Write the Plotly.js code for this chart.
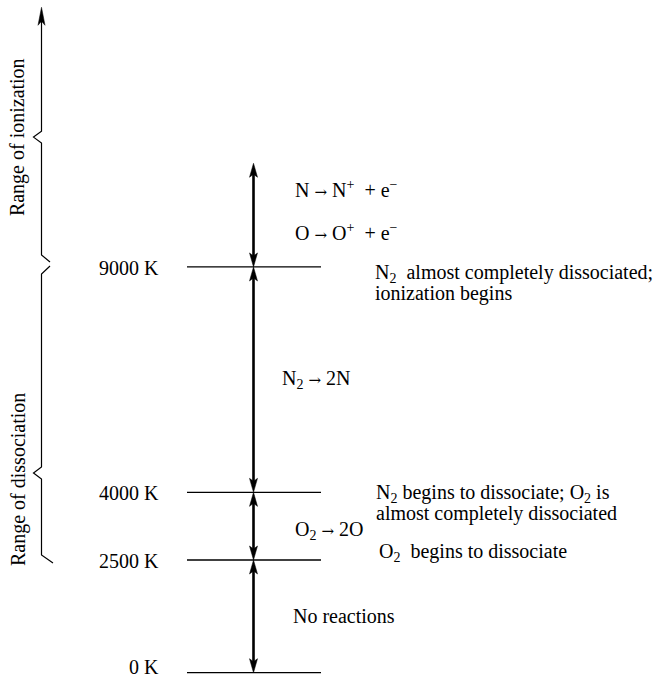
<!DOCTYPE html>
<html>
<head>
<meta charset="utf-8">
<script src="https://cdn.plot.ly/plotly-3.0.1.min.js"></script>
<style>html,body{margin:0;padding:0;background:#fff;}#chart{width:653px;height:678px;}</style>
</head>
<body>
<div id="chart"></div>
<script>
// ---- data ----
const levelsK = [0, 2500, 4000, 9000];
const levelLabels = ["0 K", "2500 K", "4000 K", "9000 K"];
const levelNotes = [
  [],
  ["O<sub>2</sub>  begins to dissociate"],
  ["N<sub>2</sub> begins to dissociate; O<sub>2</sub> is", "almost completely dissociated"],
  ["N<sub>2</sub>  almost completely dissociated;", "ionization begins"]
];
const stepLow  = [0, 2500, 4000, 9000];
const stepHigh = [2500, 4000, 9000, 11300];
const stepReactions = [
  ["No reactions"],
  ["O<sub>2</sub> → 2O"],
  ["N<sub>2</sub> → 2N"],
  ["N → N<sup>+</sup>  + e<sup>−</sup>", "O → O<sup>+</sup>  + e<sup>−</sup>"]
];
const rangeNames = ["Range of dissociation", "Range of ionization"];
const rangeLow  = [2500, 9000];
const rangeHigh = [9000, 14760];

// ---- geometry helpers (pixel <-> K on the linear y axis) ----
const Y0 = 672.7, S = 0.045083;
const kOf = p => (Y0 - p) / S;
const pxOf = k => Y0 - S * k;
const FONT = {family: "Liberation Serif", size: 20, color: "#000"};
const arrowGlyph = t => t.replace("→", '<span style="font-family:DejaVu Serif;font-size:15px">→</span>');

const shapes = [];
const annotations = [];
const traces = [];

// horizontal level lines
levelsK.forEach(k => {
  traces.push({x: [187, 321], y: [k, k], mode: "lines", line: {color: "#000", width: 1.3},
    hoverinfo: "skip", showlegend: false});
});

// arrowhead path
function head(x, tipK, dir, len, hw, notch) {
  const tp = pxOf(tipK);
  const bp = tp + dir * len, np = tp + dir * notch;
  return `M${x},${tipK} L${x - hw},${kOf(bp)} L${x},${kOf(np)} L${x + hw},${kOf(bp)} Z`;
}

// double arrows between levels
const AX = 253.5;
stepLow.forEach((lo, i) => {
  const hi = stepHigh[i];
  shapes.push({type: "line", xref: "x", yref: "y", x0: AX, x1: AX,
    y0: kOf(pxOf(lo) - 6), y1: kOf(pxOf(hi) + 6), line: {color: "#000", width: 2.6}});
  shapes.push({type: "path", xref: "x", yref: "y", path: head(AX, hi, 1, 14, 4, 11),
    fillcolor: "#000", line: {color: "#000", width: 0.5}});
  shapes.push({type: "path", xref: "x", yref: "y", path: head(AX, lo, -1, 14, 4, 11),
    fillcolor: "#000", line: {color: "#000", width: 0.5}});
  // reaction text
  const lines = stepReactions[i];
  const mid = (pxOf(lo) + pxOf(hi)) / 2;
  const xs = [291, 293, 280, 293][i];
  const shift = [0, 4, 0, -5][i];
  const gap = 43;
  lines.forEach((t, j) => {
    const p = mid + (j - (lines.length - 1) / 2) * gap + shift;
    annotations.push({xref: "x", yref: "y", x: xs, y: kOf(p), text: arrowGlyph(t), showarrow: false,
      xanchor: "left", yanchor: "middle", font: FONT});
  });
});

// level labels and notes
levelsK.forEach((k, i) => {
  annotations.push({xref: "x", yref: "y", x: 161, y: kOf(pxOf(k) - (i === 0 ? 6 : -1)), text: levelLabels[i],
    showarrow: false, xanchor: "right", yanchor: "middle", font: FONT});
  const notes = levelNotes[i];
  const offs = [0, -7, 1, 7][i];
  notes.forEach((t, j) => {
    annotations.push({xref: "x", yref: "y", x: [0, 378, 375, 374][i], y: kOf(pxOf(k) + offs + j * 20),
      text: t, showarrow: false, xanchor: "left", yanchor: "middle", font: FONT, borderpad: 0});
  });
});

// braces on the left
const BX = 41.5;
function pathOf(pts) {
  return pts.map((p, i) => (i ? "L" : "M") + p[0] + "," + kOf(p[1])).join(" ");
}
// dissociation
{
  const top = pxOf(rangeHigh[0]), bot = pxOf(rangeLow[0]);
  const peak = 473;
  shapes.push({type: "path", xref: "x", yref: "y", line: {color: "#000", width: 1.2},
    path: pathOf([[50, top - 1], [BX, top + 7], [BX, peak - 6], [33.5, peak], [BX, peak + 6],
      [BX, bot - 5], [53, bot + 3]])});
  annotations.push({xref: "x", yref: "y", x: 18, y: kOf(480), text: rangeNames[0], textangle: -90,
    showarrow: false, xanchor: "center", yanchor: "middle", font: FONT});
}
// ionization
{
  const bot = pxOf(rangeLow[1]), top = pxOf(rangeHigh[1]);
  const peak = (bot + top) / 2;
  shapes.push({type: "path", xref: "x", yref: "y", line: {color: "#000", width: 1.2},
    path: pathOf([[50, bot - 5], [BX, bot - 12], [BX, peak + 6], [33.5, peak], [BX, peak - 6],
      [BX, top + 12]])});
  shapes.push({type: "path", xref: "x", yref: "y", path: head(BX, rangeHigh[1], 1, 18, 3.5, 14),
    fillcolor: "#000", line: {color: "#000", width: 0.5}});
  annotations.push({xref: "x", yref: "y", x: 17, y: kOf(peak), text: rangeNames[1], textangle: -90,
    showarrow: false, xanchor: "center", yanchor: "middle", font: FONT});
}

const layout = {
  width: 653, height: 678, autosize: false,
  margin: {l: 0, r: 0, t: 0, b: 0, pad: 0},
  paper_bgcolor: "#fff", plot_bgcolor: "#fff",
  font: {family: "Liberation Serif"},
  xaxis: {range: [0, 653], visible: false, fixedrange: true},
  yaxis: {range: [kOf(678), kOf(0)], visible: false, fixedrange: true},
  showlegend: false,
  shapes: shapes,
  annotations: annotations
};
Plotly.newPlot("chart", traces, layout, {displayModeBar: false, staticPlot: true});
</script>
</body>
</html>
